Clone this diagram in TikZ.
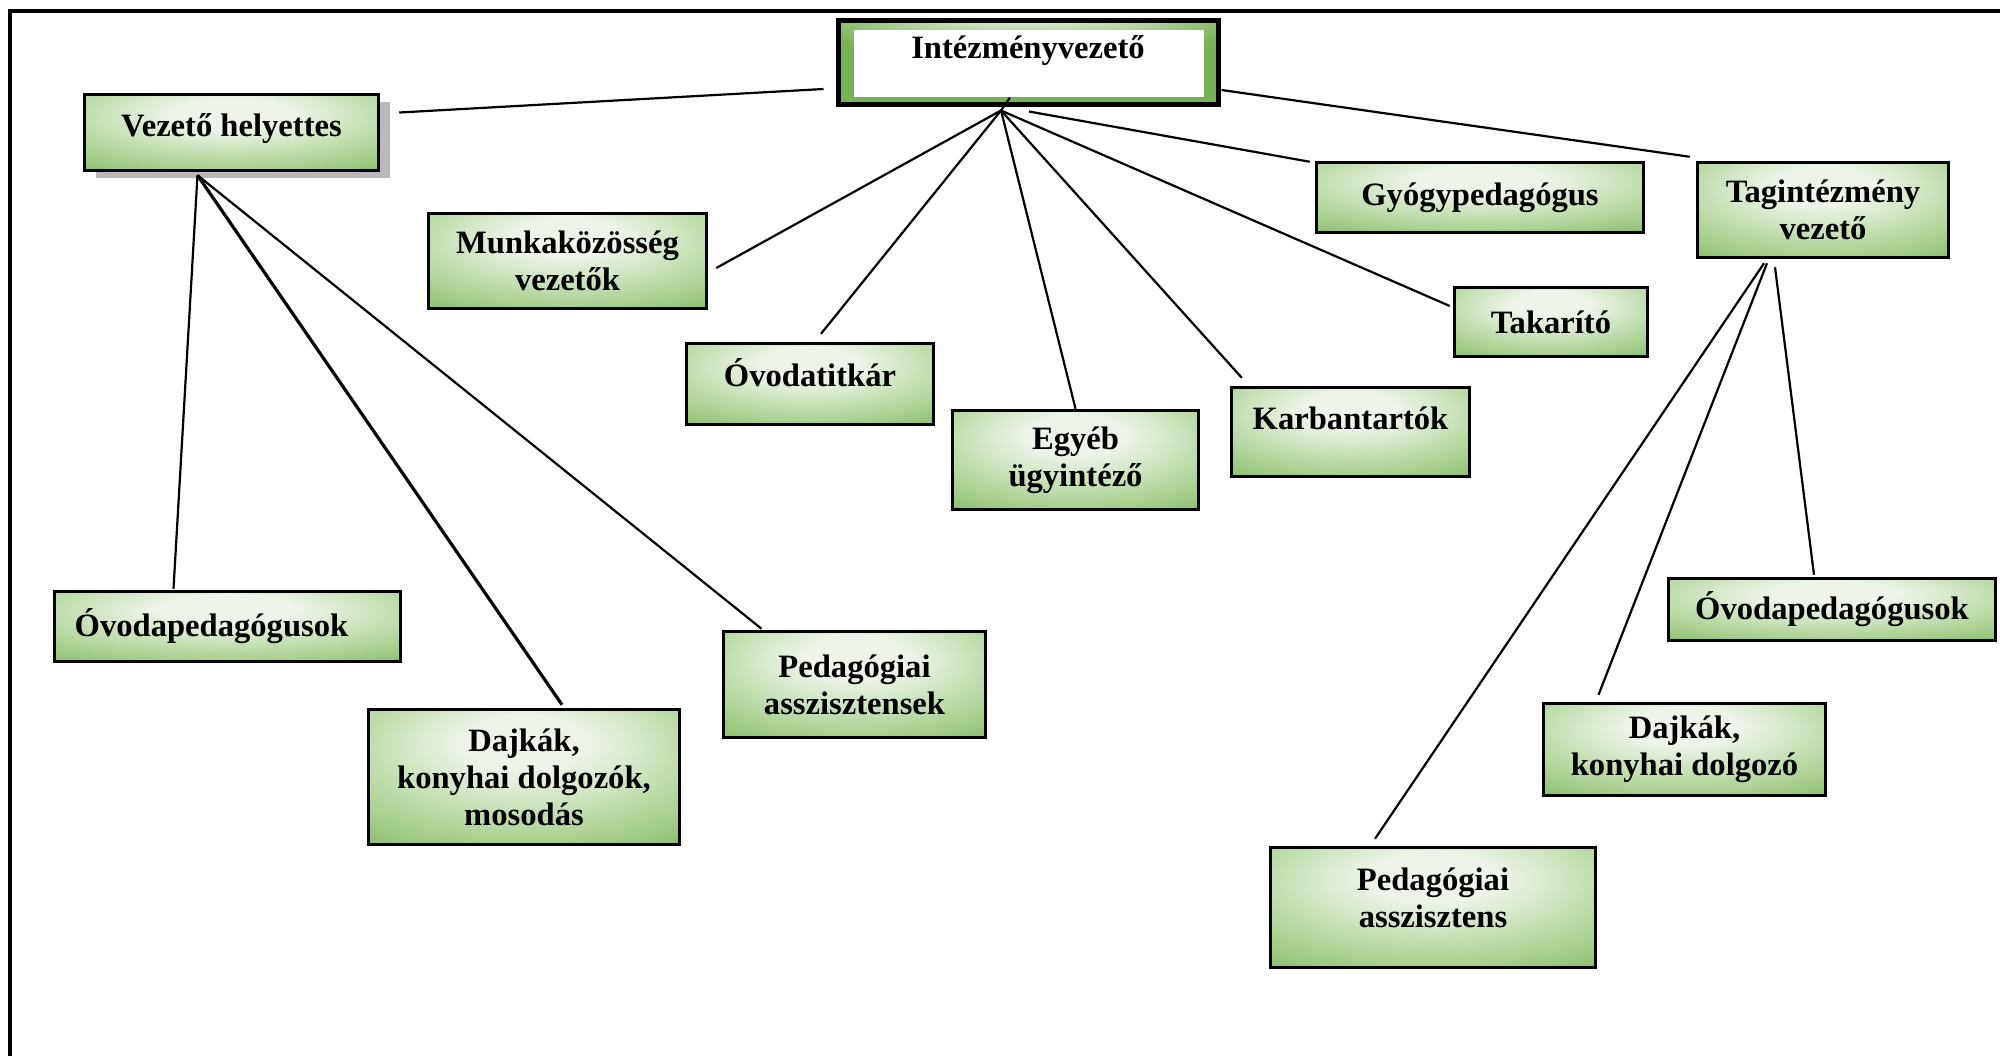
\documentclass[tikz,border=0pt]{standalone}
\usepackage{fontspec}
\setmainfont{Liberation Serif}
\usetikzlibrary{calc, shadows}

\definecolor{boxgreen}{RGB}{120,177,86}
\definecolor{boxmid}{RGB}{172,210,146}
\definecolor{boxlight}{RGB}{238,244,234}
% zöld doboz fényes közepe
\pgfdeclareradialshading{boxglow}{\pgfpoint{0bp}{14bp}}{color(0bp)=(boxlight); color(10bp)=(boxlight); color(32bp)=(boxmid); color(48bp)=(boxgreen); color(100bp)=(boxgreen)}
% az intézményvezető zöld kerete
\pgfdeclareradialshading{bandglow}{\pgfpoint{0bp}{42bp}}{color(0bp)=(boxlight); color(8bp)=(boxlight); color(30bp)=(boxgreen); color(100bp)=(boxgreen)}

\tikzset{
  orgbox/.style={draw=black, line width=1.75pt, shading=boxglow, align=center,
                 font=\bfseries\fontsize{16.3}{18.5}\selectfont, inner sep=2pt},
  link/.style={line width=1.1pt},
}

\begin{document}
\begin{tikzpicture}[x=0.5pt, y=-0.5pt]
\useasboundingbox (0,0) rectangle (2000,1056);
% keret (felső és bal oldal)
\draw[line width=2pt] (9.5,1056) -- (9.5,11) -- (2000,11);

% intézményvezető: zöld keret, fehér belső
\node[orgbox, shading=bandglow, line width=2.5pt, minimum width=190pt, minimum height=42pt] (iv) at (1028,62) {};
\fill[white] ($(iv.north west)+(18,12)$) rectangle ($(iv.south east)+(-17,-10)$);
\node[font=\bfseries\fontsize{16.3}{18.5}\selectfont] (ivtext) at (1028,51) {Intézményvezető};

% vezetők, munkatársak
\node[orgbox, minimum width=147pt, minimum height=38pt, text depth=7.5pt,
      drop shadow={shadow xshift=5.5pt, shadow yshift=-3.5pt, fill=gray!55, opacity=1}]
      (vh) at (231.5,132.5) {Vezető helyettes};
\node[orgbox, minimum width=139pt, minimum height=47.5pt] (mk) at (567.5,261) {Munkaközösség\\vezetők};
\node[orgbox, minimum width=123.5pt, minimum height=40.5pt, text depth=11.5pt] (ot) at (810,384) {Óvodatitkár};
\node[orgbox, minimum width=123pt, minimum height=49.5pt] (eu) at (1075.5,460) {Egyéb\\ügyintéző};
\node[orgbox, minimum width=119pt, minimum height=44.5pt, text depth=14pt] (kb) at (1350.5,432) {Karbantartók};
\node[orgbox, minimum width=163.5pt, minimum height=35pt] (gy) at (1480,197.5) {Gyógypedagógus};
\node[orgbox, minimum width=96.5pt, minimum height=34.5pt] (tk) at (1551,322) {Takarító};
\node[orgbox, minimum width=125.5pt, minimum height=47.5pt] (ti) at (1823,210) {Tagintézmény\\vezető};

% helyettes alá
\node[orgbox, minimum width=173pt, minimum height=35pt] (op1) at (227.5,626.5) {Óvodapedagógusok\hspace*{16pt}};
\node[orgbox, minimum width=155.5pt, minimum height=67.5pt] (dk1) at (524,777) {Dajkák,\\konyhai dolgozók,\\mosodás};
\node[orgbox, minimum width=131pt, minimum height=53pt] (pa1) at (854.5,684.5) {Pedagógiai\\asszisztensek};

% tagintézmény alá
\node[orgbox, minimum width=163.5pt, minimum height=31pt] (op2) at (1832,609.5) {Óvodapedagógusok};
\node[orgbox, minimum width=141pt, minimum height=46pt] (dk2) at (1684.5,749.5) {Dajkák,\\konyhai dolgozó};
\node[orgbox, minimum width=162.5pt, minimum height=60pt, text depth=10pt] (pa2) at (1433,907.5) {Pedagógiai\\asszisztens};

% vonalak
\coordinate (ivhub) at ($(iv.south)+(-27,4)$);
\draw[link] (ivhub) -- ($(iv.south)+(-18,-9)$);
\draw[link] (ivhub) -- ($(mk.east)+(8,7)$);
\draw[link] (ivhub) -- ($(ot.north)+(11,-8)$);
\draw[link] (ivhub) -- (eu.north);
\draw[link] (ivhub) -- ($(kb.north west)+(12,-8)$);
\draw[link] (ivhub) -- ($(tk.west)+(-3,-16)$);
\draw[link] ($(ivhub)+(28,1)$) -- ($(gy.north west)+(-5,1)$);
\draw[link] ($(iv.east)+(1,28)$) -- ($(ti.north west)+(-6,-4)$);
\draw[link] ($(vh.east)+(19,-20)$) -- ($(iv.west)+(-12,27)$);

\coordinate (vhhub) at ($(vh.south)+(-34,3)$);
\draw[link] (vhhub) -- ($(op1.north)+(-54,-1)$);
\draw[link, line width=1.6pt] (vhhub) -- ($(dk1.north)+(38,-3)$);
\draw[link] (vhhub) -- ($(pa1.north)+(-93,-1)$);

\coordinate (tihub) at ($(ti.south)+(-59,4)$);
\draw[link] (tihub) -- ($(pa2.north)+(-58,-7)$);
\draw[link] ($(tihub)+(3,0)$) -- ($(dk2.north)+(-86,-7)$);
\draw[link] ($(ti.south)+(-48,8)$) -- ($(op2.north)+(-18,-2)$);
\end{tikzpicture}
\end{document}
